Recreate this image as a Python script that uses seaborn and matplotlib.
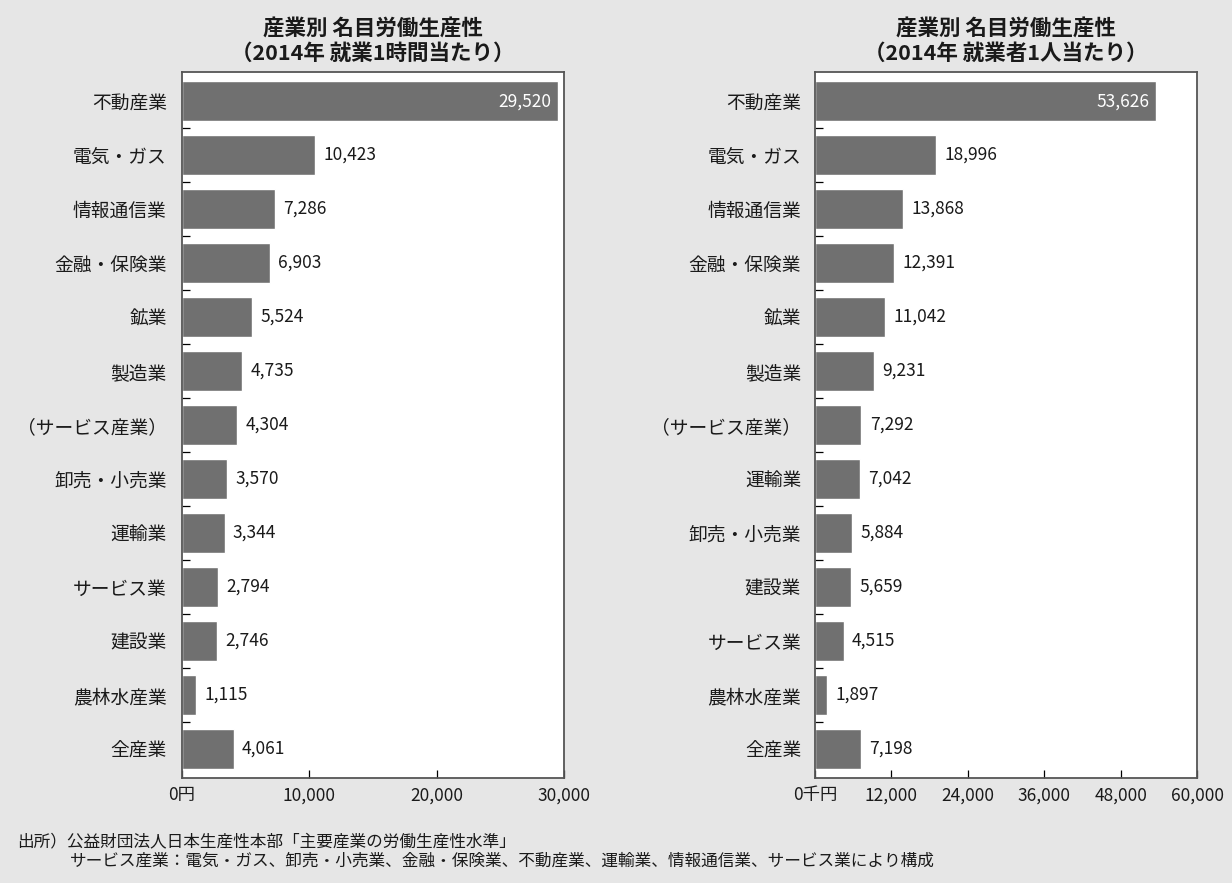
import matplotlib
matplotlib.use("Agg")
import matplotlib.pyplot as plt
import seaborn as sns
import pandas as pd
from matplotlib.ticker import FuncFormatter, FixedLocator

sns.set_theme(style="white")
plt.rcParams['font.family'] = ['Noto Sans CJK JP', 'DejaVu Sans']

# 就業1時間当たり（円）
hour_industries = ["不動産業", "電気・ガス", "情報通信業", "金融・保険業", "鉱業", "製造業",
                   "（サービス産業）", "卸売・小売業", "運輸業", "サービス業", "建設業",
                   "農林水産業", "全産業"]
hour_values = [29520, 10423, 7286, 6903, 5524, 4735, 4304, 3570, 3344, 2794, 2746, 1115, 4061]

# 就業者1人当たり（千円）
person_industries = ["不動産業", "電気・ガス", "情報通信業", "金融・保険業", "鉱業", "製造業",
                     "（サービス産業）", "運輸業", "卸売・小売業", "建設業", "サービス業",
                     "農林水産業", "全産業"]
person_values = [53626, 18996, 13868, 12391, 11042, 9231, 7292, 7042, 5884, 5659, 4515, 1897, 7198]

titles = ["産業別 名目労働生産性\n（2014年 就業1時間当たり）",
          "産業別 名目労働生産性\n（2014年 就業者1人当たり）"]
x_max = [30000, 60000]
x_step = [10000, 12000]
zero_labels = ["0円", "0千円"]

bg = "#e6e6e6"
bar_color = "#707070"
text_color = "#1a1a1a"

fig = plt.figure(figsize=(12.32, 8.83), dpi=100, facecolor=bg)
W, H = 1232, 883
ax_boxes = [(182, 72, 564, 778), (815, 72, 1197, 778)]

panels = [(hour_industries, hour_values), (person_industries, person_values)]
for i, ((cats, vals), box) in enumerate(zip(panels, ax_boxes)):
    x0, y0, x1, y1 = box
    ax = fig.add_axes([x0 / W, 1 - y1 / H, (x1 - x0) / W, (y1 - y0) / H])
    ax.set_facecolor("white")
    df = pd.DataFrame({"industry": cats, "value": vals})
    sns.barplot(data=df, x="value", y="industry", ax=ax, color=bar_color,
                saturation=1, width=0.74, orient="h")
    n = len(cats)
    ax.set_ylim(n - 0.46, -0.54)
    ax.set_xlim(0, x_max[i])
    ax.set_xlabel("")
    ax.set_ylabel("")
    ax.set_xticks(list(range(0, x_max[i] + 1, x_step[i])))
    z = zero_labels[i]
    ax.xaxis.set_major_formatter(FuncFormatter(lambda v, p, z=z: z if v == 0 else f"{int(v):,}"))
    ax.tick_params(axis="x", direction="in", length=5.5, width=0.9, color="black",
                   labelsize=12.5, labelcolor=text_color, pad=6, bottom=True)
    ax.tick_params(axis="y", which="major", length=0, labelsize=13.5,
                   labelcolor=text_color, pad=11 if i == 0 else 10)
    ax.yaxis.set_minor_locator(FixedLocator([k + 0.5 for k in range(n - 1)]))
    ax.tick_params(axis="y", which="minor", direction="in", length=6, width=0.9,
                   color="black", left=True)
    for s in ax.spines.values():
        s.set_visible(True)
        s.set_color("#555555")
        s.set_linewidth(1.3)
    for k, v in enumerate(vals):
        if v > 0.8 * x_max[i]:
            ax.annotate(f"{v:,}", xy=(v, k), xytext=(-5, 0), textcoords="offset points",
                        ha="right", va="center", color="white", fontsize=12.5)
        else:
            ax.annotate(f"{v:,}", xy=(v, k), xytext=(6, 0), textcoords="offset points",
                        ha="left", va="center", color=text_color, fontsize=12.5)
    ax.set_title(titles[i], fontsize=15.5, fontweight="bold", pad=9,
                 linespacing=1.22, color=text_color)

fig.text(17 / W, 1 - 842 / H, "出所）公益財団法人日本生産性本部「主要産業の労働生産性水準」",
         fontsize=12, va="center", ha="left", color=text_color)
fig.text(70 / W, 1 - 861 / H,
         "サービス産業：電気・ガス、卸売・小売業、金融・保険業、不動産業、運輸業、情報通信業、サービス業により構成",
         fontsize=12, va="center", ha="left", color=text_color)

fig.savefig("out.png", dpi=100, facecolor=bg)
